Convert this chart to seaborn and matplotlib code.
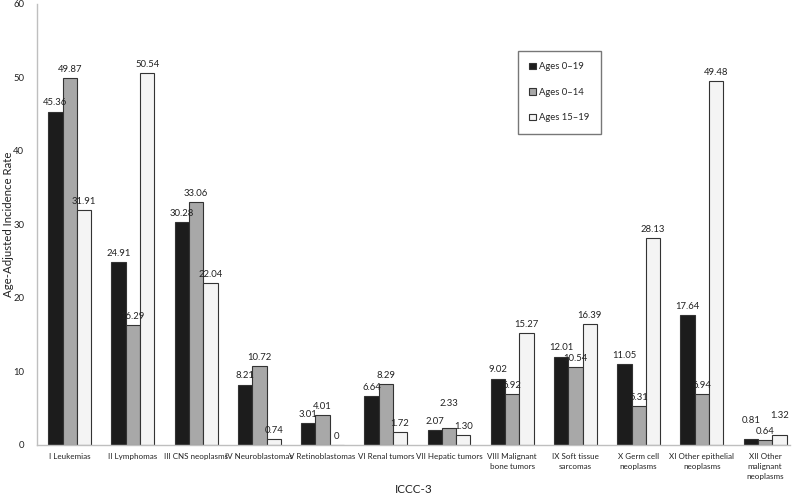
import matplotlib
matplotlib.use("Agg")
import matplotlib.pyplot as plt
import seaborn as sns
import pandas as pd

categories = ["I Leukemias", "II Lymphomas", "III CNS neoplasms", "IV Neuroblastomas",
              "V Retinoblastomas", "VI Renal tumors", "VII Hepatic tumors",
              "VIII Malignant\nbone tumors", "IX Soft tissue\nsarcomas", "X Germ cell\nneoplasms",
              "XI Other epithelial\nneoplasms", "XII Other\nmalignant\nneoplasms"]
series = ["Ages 0\u201319", "Ages 0\u201314", "Ages 15\u201319"]
ages_0_19 = [45.36, 24.91, 30.28, 8.21, 3.01, 6.64, 2.07, 9.02, 12.01, 11.05, 17.64, 0.81]
ages_0_14 = [49.87, 16.29, 33.06, 10.72, 4.01, 8.29, 2.33, 6.92, 10.54, 5.31, 6.94, 0.64]
ages_15_19 = [31.91, 50.54, 22.04, 0.74, 0.0, 1.72, 1.30, 15.27, 16.39, 28.13, 49.48, 1.32]
label_0_19 = ["45.36", "24.91", "30.28", "8.21", "3.01", "6.64", "2.07", "9.02", "12.01", "11.05", "17.64", "0.81"]
label_0_14 = ["49.87", "16.29", "33.06", "10.72", "4.01", "8.29", "2.33", "6.92", "10.54", "5.31", "6.94", "0.64"]
label_15_19 = ["31.91", "50.54", "22.04", "0.74", "0", "1.72", "1.30", "15.27", "16.39", "28.13", "49.48", "1.32"]

df = pd.DataFrame({
    "cat": categories * 3,
    "series": [series[0]] * 12 + [series[1]] * 12 + [series[2]] * 12,
    "value": ages_0_19 + ages_0_14 + ages_15_19,
})

sns.set_style("white")
plt.rcParams["font.family"] = ["Lato", "DejaVu Sans"]

fig = plt.figure(figsize=(8, 4.96), dpi=100)
ax = fig.add_axes([0.046, 0.103, 0.942, 0.889])

palette = {series[0]: "#1c1c1c", series[1]: "#a8a8a8", series[2]: "#f4f4f4"}
sns.barplot(data=df, x="cat", y="value", hue="series", order=categories, hue_order=series,
            palette=palette, width=0.68, edgecolor="#333333", linewidth=0.8,
            saturation=1, ax=ax, errorbar=None, legend=True)

# label offsets (points) to keep crowded labels apart, as in the reference
pads = [
    {11: 10},
    {6: 14, 11: 3},
    {11: 11},
]
for ci, (cont, labs) in enumerate(zip(ax.containers, [label_0_19, label_0_14, label_15_19])):
    for i, (rect, lab) in enumerate(zip(cont, labs)):
        pad = pads[ci].get(i, 3)
        ax.annotate(lab, xy=(rect.get_x() + rect.get_width() / 2, rect.get_height()),
                    xytext=(0, pad), textcoords="offset points", ha="center", va="bottom",
                    fontsize=6.8, color="#222222")

ax.set_ylim(0, 60)
ax.set_yticks(range(0, 61, 10))
ax.set_xlim(-0.52, 11.4)
ax.set_xlabel("ICCC-3", fontsize=8.5, color="#222222", va="center")
ax.xaxis.set_label_coords(0.5, -0.102)
ax.set_ylabel("Age-Adjusted Incidence Rate", fontsize=8.2, color="#222222", va="center")
ax.yaxis.set_label_coords(-0.038, 0.5)
ax.tick_params(axis="x", labelsize=5.8, length=0, pad=6, colors="#222222")
ax.tick_params(axis="y", labelsize=6.8, length=0, pad=9, colors="#222222")
for lab in ax.get_xticklabels():
    lab.set_linespacing(1.45)
for s in ["top", "right"]:
    ax.spines[s].set_visible(False)
for s in ["left", "bottom"]:
    ax.spines[s].set_color("#bfbfbf")
    ax.spines[s].set_linewidth(1.0)

leg = ax.legend(loc="upper left", bbox_to_anchor=(0.647, 0.897), bbox_transform=fig.transFigure,
                frameon=True, fontsize=6.8,
                handlelength=0.7, handleheight=0.7, labelspacing=1.75, borderpad=1.2,
                handletextpad=0.4, borderaxespad=0, fancybox=False, edgecolor="#555555")
leg.get_frame().set_linewidth(1.0)

fig.savefig("out.png", dpi=100)
